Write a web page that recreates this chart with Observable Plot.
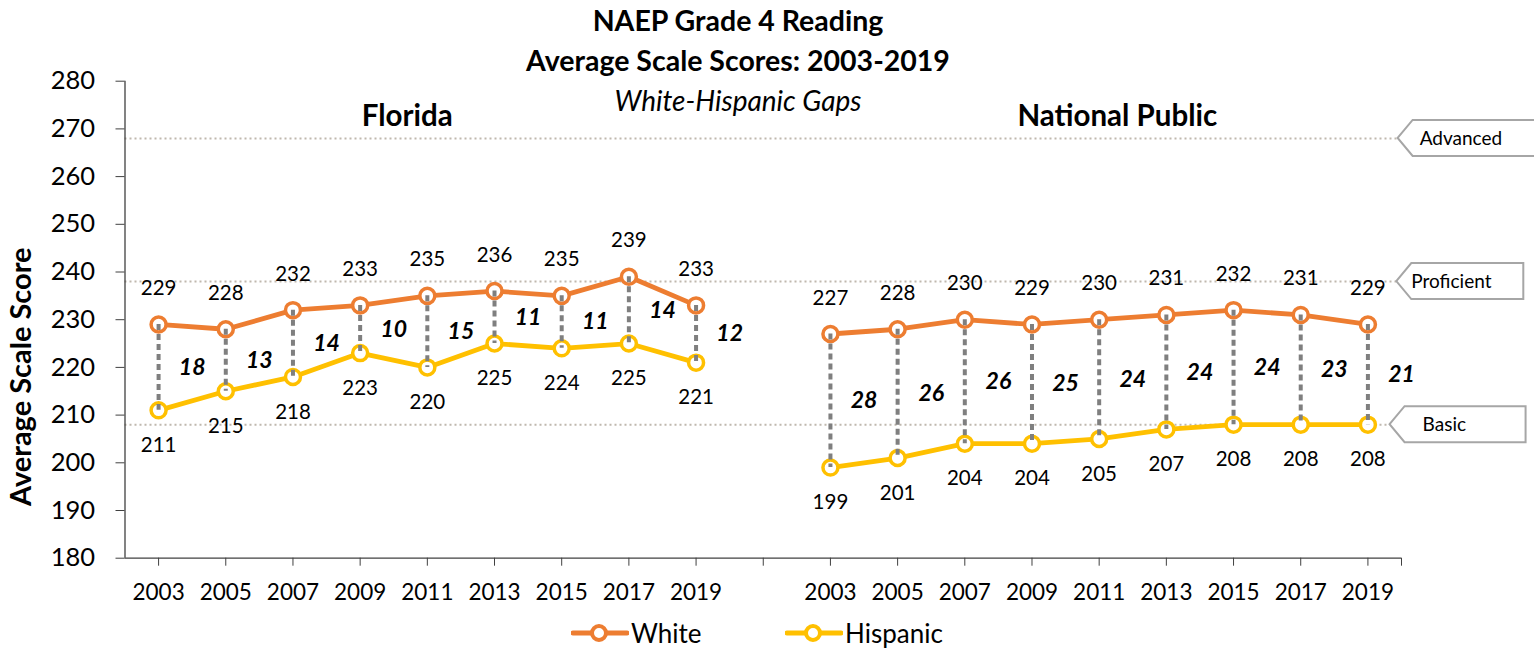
<!DOCTYPE html>
<html><head><meta charset="utf-8">
<script src="https://cdn.jsdelivr.net/npm/d3@7"></script>
<script src="https://cdn.jsdelivr.net/npm/@observablehq/plot@0.6"></script>
<style>
body{margin:0;background:#fff;font-family:Lato,"Open Sans",sans-serif;}
#wrap{position:relative;width:1534px;height:650px;overflow:hidden;}
.t{position:absolute;left:0;width:1476px;text-align:center;color:#000;line-height:1;white-space:nowrap;}
.lg{position:absolute;top:617px;display:flex;align-items:center;font-size:26px;color:#000;}
</style></head><body><div id="wrap"></div>
<script>
const years = ["2003","2005","2007","2009","2011","2013","2015","2017","2019"];
const panels = ["Florida","National Public"];
const races = ["White","Hispanic"];
const raceColors = ["#ED7D31","#FFC000"];
const floridaWhite = [229,228,232,233,235,236,235,239,233];
const floridaHispanic = [211,215,218,223,220,225,224,225,221];
const floridaGap = [18,13,14,10,15,11,11,14,12];
const nationalWhite = [227,228,230,229,230,231,232,231,229];
const nationalHispanic = [199,201,204,204,205,207,208,208,208];
const nationalGap = [28,26,26,25,24,24,24,23,21];
const levels = ["Advanced","Proficient","Basic"];
const levelScores = [268,238,208];
const yTicks = [180,190,200,210,220,230,240,250,260,270,280];

const series = [
  {panel:0, white:floridaWhite, hisp:floridaHispanic, gap:floridaGap},
  {panel:1, white:nationalWhite, hisp:nationalHispanic, gap:nationalGap}
];
const rows = [], gapRows = [];
series.forEach(s => {
  years.forEach((yr, j) => {
    const idx = s.panel * 10 + j;
    rows.push({idx, year: yr, race: "White", key: s.panel + "W", value: s.white[j]});
    rows.push({idx, year: yr, race: "Hispanic", key: s.panel + "H", value: s.hisp[j]});
    gapRows.push({idx, white: s.white[j], hisp: s.hisp[j], gap: s.gap[j]});
  });
});
const levelRows = levels.map((name, i) => ({name, score: levelScores[i]}));
const tickIdx = [];
for (let p = 0; p < 2; p++) years.forEach((y, j) => tickIdx.push(p * 10 + j));
tickIdx.push(9, 18.5);
const tickLabel = i => (Number.isInteger(i) && i !== 9 && i <= 18) ? years[i % 10] : "";

const calloutStyle = {
  Advanced:   {tip: 18.45, w: 150, tx: 22},
  Proficient: {tip: 18.43, w: 127, tx: 15},
  Basic:      {tip: 18.33, w: 136, tx: 33}
};

function callouts(index, scales) {
  const g = d3.create("svg:g");
  levelRows.forEach(d => {
    const st = calloutStyle[d.name];
    const x0 = scales.x(st.tip), y = scales.y(d.score), h = 18, a = 15;
    g.append("path")
      .attr("d", `M${x0},${y}L${x0 + a},${y - h}L${x0 + st.w},${y - h}L${x0 + st.w},${y + h}L${x0 + a},${y + h}Z`)
      .attr("fill", "white").attr("stroke", "#a6a6a6").attr("stroke-width", 2);
    g.append("text").attr("x", x0 + st.tx).attr("y", y).attr("dy", "0.35em")
      .attr("text-anchor", "start").attr("font-size", 19).attr("fill", "#000").text(d.name);
  });
  return g.node();
}

const chart = Plot.plot({
  width: 1534, height: 650,
  marginLeft: 124.5, marginRight: 133, marginTop: 80.7, marginBottom: 92.3,
  style: {fontFamily: "Lato, 'Open Sans', sans-serif", color: "#000", background: "white", overflow: "visible"},
  x: {domain: [-0.5, 18.5]},
  y: {domain: [180, 280]},
  color: {domain: races, range: raceColors},
  marks: [
    Plot.ruleY(levelRows, {y: "score", x1: -0.5, x2: d => calloutStyle[d.name].tip, stroke: "#bfb8ae", strokeWidth: 2, strokeDasharray: "2,3"}),
    Plot.axisY({ticks: yTicks, tickSize: 9, tickPadding: 21, fontSize: 25.5, label: null, stroke: "#404040", tickFormat: d => d}),
    Plot.axisX({ticks: tickIdx, tickFormat: tickLabel, tickSize: 8, tickPadding: 18, fontSize: 22.5, label: null, stroke: "#404040"}),
    Plot.ruleX([-0.5], {stroke: "#404040", strokeWidth: 1.3}),
    Plot.ruleY([180], {x1: -0.5, x2: 18.5, stroke: "#404040", strokeWidth: 1.3}),
    Plot.line(rows, {x: "idx", y: "value", z: "key", stroke: "race", strokeWidth: 4.8}),
    Plot.dot(rows, {x: "idx", y: "value", r: 7.5, fill: "white", stroke: "race", strokeWidth: 3.5}),
    Plot.ruleX(gapRows, {x: "idx", y1: "white", y2: "hisp", stroke: "#7f7f7f", strokeWidth: 4, strokeDasharray: "6,4"}),
    Plot.text(rows.filter(d => d.race === "White"), {x: "idx", y: "value", text: "value", dy: -36, fontSize: 20.5}),
    Plot.text(rows.filter(d => d.race === "Hispanic"), {x: "idx", y: "value", text: "value", dy: 35, fontSize: 20.5}),
    Plot.text(gapRows, {x: d => d.idx + 0.5, y: d => (d.white + d.hisp) / 2, text: "gap", fontSize: 23, fontWeight: "bold", fontStyle: "italic"}),
    Plot.text(panels, {x: (d, i) => i * 10 + 4 + (i ? 0.27 : -0.3), y: 272.6, text: d => d, fontSize: 29.5, fontWeight: "bold"}),
    Plot.text(["Average Scale Score"], {frameAnchor: "left", textAnchor: "middle", rotate: -90, dx: -103, dy: 57, fontSize: 29, fontWeight: "bold"}),
    callouts
  ]
});

const wrap = document.getElementById("wrap");
wrap.appendChild(chart);
const titles = [
  {text: "NAEP Grade 4 Reading", top: 6, style: "font-weight:bold;font-size:28.5px;"},
  {text: "Average Scale Scores: 2003-2019", top: 46, style: "font-weight:bold;font-size:28.5px;"},
  {text: "White-Hispanic Gaps", top: 86, style: "font-style:italic;font-size:28px;"}
];
titles.forEach(t => {
  const d = document.createElement("div");
  d.className = "t"; d.style.cssText = t.style + "top:" + t.top + "px;"; d.textContent = t.text;
  wrap.appendChild(d);
});
const legendLeft = [571, 785];
races.forEach((r, i) => {
  const d = document.createElement("div");
  d.className = "lg"; d.style.left = legendLeft[i] + "px";
  d.innerHTML = `<svg width="58" height="30"><line x1="2" x2="56" y1="15" y2="15" stroke="${raceColors[i]}" stroke-width="5" stroke-linecap="round"/><circle cx="28" cy="15" r="7" fill="white" stroke="${raceColors[i]}" stroke-width="4"/></svg><span style="margin-left:2px">${r}</span>`;
  wrap.appendChild(d);
});
</script></body></html>
